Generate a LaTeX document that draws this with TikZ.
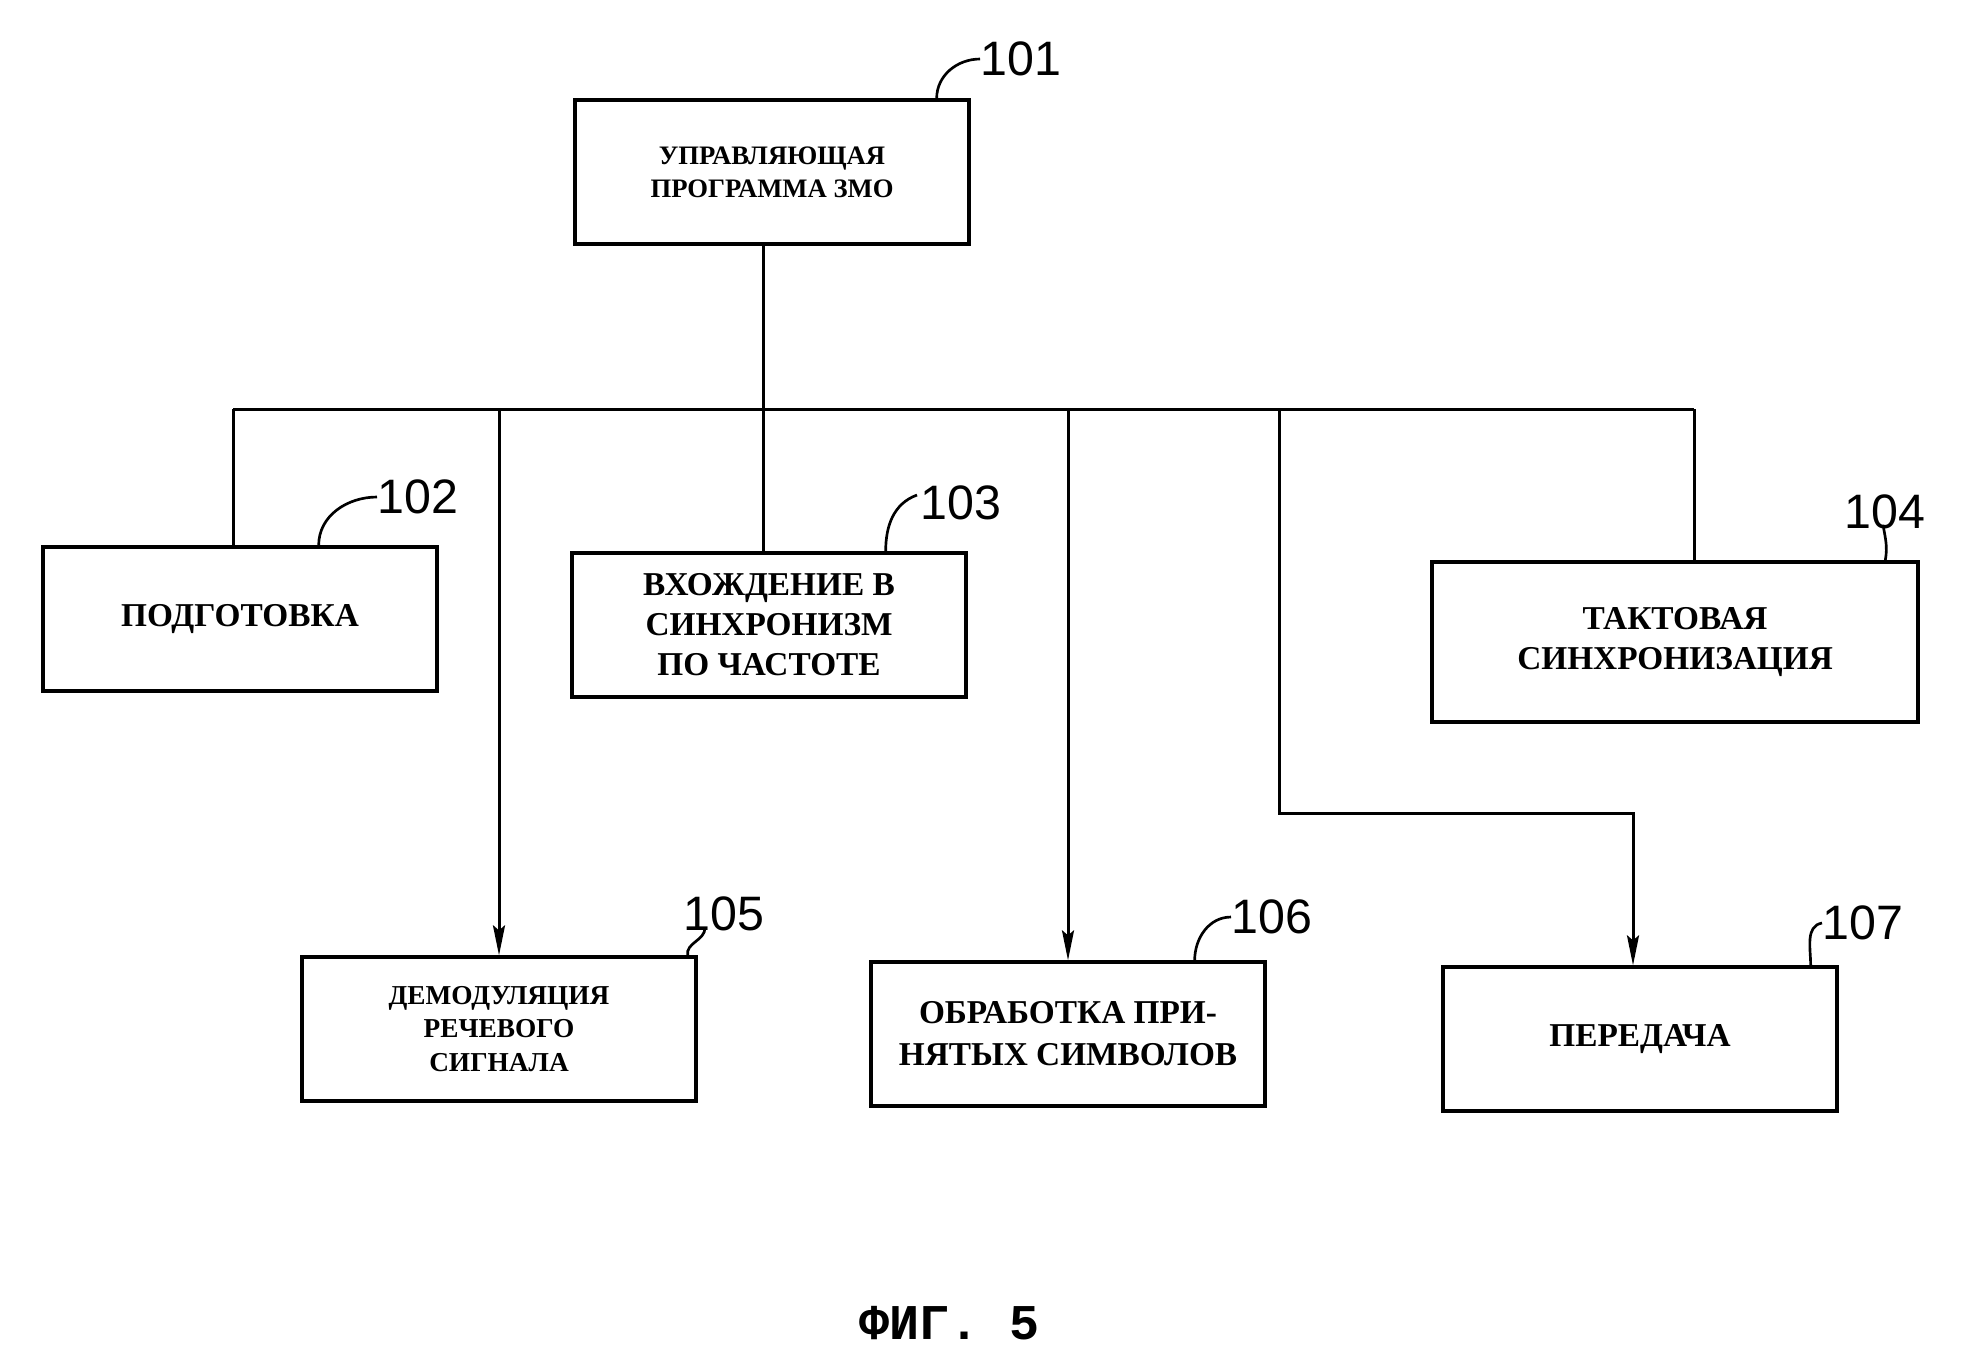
\documentclass[tikz,border=0pt]{standalone}
\usepackage{fontspec}
\setmainfont{Liberation Serif}
\newfontfamily\numfont{Liberation Sans}
\newfontfamily\capfont{Liberation Mono}
\usetikzlibrary{arrows.meta}
\usetikzlibrary{calc}

\tikzset{
  block/.style={draw, line width=1.2pt, minimum width=118pt, minimum height=43pt,
    align=center, inner sep=2pt, font=\bfseries\fontsize{10}{12}\selectfont},
  num/.style={inner sep=0pt, font=\numfont\fontsize{14.5}{15}\selectfont},
  link/.style={line width=0.9pt},
  lead/.style={line width=0.8pt},
  arr/.style={link, -{Stealth[length=9pt, width=3.6pt, inset=1.5pt]}}
}

\begin{document}
\begin{tikzpicture}[x=0.3pt, y=-0.3pt]
  \useasboundingbox (0,0) rectangle (1985,1355);

  % blocks
  \node[block, font=\bfseries\fontsize{8}{10}\selectfont] (ctrl) at (772,172) {УПРАВЛЯЮЩАЯ\\ПРОГРАММА ЗМО};
  \node[block] (prep) at (240,619) {ПОДГОТОВКА};
  \node[block] (sync) at (769,625) {ВХОЖДЕНИЕ В\\СИНХРОНИЗМ\\ПО ЧАСТОТЕ};
  \node[block, minimum width=146pt, minimum height=48pt] (clock) at (1675,642) {ТАКТОВАЯ\\СИНХРОНИЗАЦИЯ};
  \node[block, font=\bfseries\fontsize{8.2}{10}\selectfont] (demod) at (499,1029) {ДЕМОДУЛЯЦИЯ\\РЕЧЕВОГО\\СИГНАЛА};
  \node[block, font=\bfseries\fontsize{10}{12.6}\selectfont] (symb) at (1068,1034) {ОБРАБОТКА ПРИ-\\НЯТЫХ СИМВОЛОВ};
  \node[block] (send) at (1640,1039) {ПЕРЕДАЧА};

  % reference numbers
  \node[num] (n101) at (1021,59) {101};
  \node[num] (n102) at (418,497) {102};
  \node[num] (n103) at (961,503) {103};
  \node[num] (n104) at (1885,512) {104};
  \node[num] (n105) at (724,914) {105};
  \node[num] (n106) at (1272,917) {106};
  \node[num] (n107) at (1863,923) {107};

  \node[font=\capfont\bfseries\fontsize{15}{16}\selectfont] (fig) at (950,1323) {ФИГ. 5};

  % bus
  \coordinate (stem) at (763,409);
  \coordinate (busL) at (233,409);
  \coordinate (busR) at (1694,409);
  \coordinate (bend) at (1279,813);
  \coordinate (drop7) at (1633,813);

  \draw[link] (stem |- ctrl.south) -- (stem |- sync.north);
  \draw[link] (busL) -- (busR);
  \draw[link] (busL) -- (busL |- prep.north);
  \draw[link] (busR) -- (busR |- clock.north);
  \draw[arr] (busL -| demod.north) -- (demod.north);
  \draw[arr] (busL -| symb.north) -- (symb.north);
  \draw[arr] (bend |- busL) -- (bend) -- (drop7) -- (drop7 |- send.north);

  % leaders
  \draw[lead] ($(ctrl.north east)+(-34,0)$) to[out=90, in=180] (n101.west);
  \draw[lead] ($(prep.north east)+(-120,0)$) to[out=90, in=180] (n102.west);
  \draw[lead] ($(sync.north east)+(-82,0)$) to[out=90, in=200] ($(n103.west)+(-3,-8)$);
  \draw[lead] ($(clock.north east)+(-35,0)$) to[out=80, in=-80] ($(n104.south)+(-2,-5)$);
  \draw[lead] ($(demod.north east)+(-10,0)$) to[out=100, in=-90] ($(n105.south west)+(22,-4)$);
  \draw[lead] ($(symb.north east)+(-72,0)$) to[out=90, in=180] (n106.west);
  \draw[lead] ($(send.north east)+(-28,0)$) to[out=90, in=190] (n107.west);
\end{tikzpicture}
\end{document}
